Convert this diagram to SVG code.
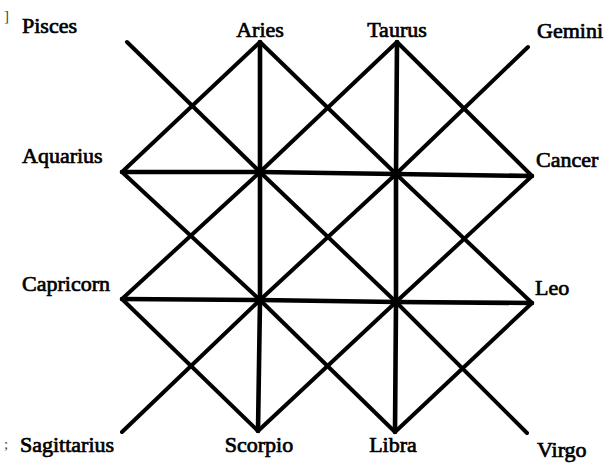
<svg xmlns="http://www.w3.org/2000/svg" width="605" height="469" viewBox="0 0 605 469">
<style>
.lbl{font-family:"Liberation Serif","Times New Roman",serif;font-size:22px;fill:#000;stroke:#000;stroke-width:0.7}
.mid{text-anchor:middle}
.mark{font-family:"Liberation Serif",serif;font-size:15px;fill:#444}
.ln{stroke:#000;stroke-width:4;stroke-linecap:round;stroke-linejoin:round;fill:none}
.hv{stroke-width:4.6}
</style>
<rect width="605" height="469" fill="#fff"/>
<g id="connectors">
<polyline class="ln hv" points="122,172 260,172 396,174 532,176"/>
<polyline class="ln hv" points="122,299 260,300 396,302 532,303"/>
<polyline class="ln hv" points="260,42 260,172 260,300 258,431"/>
<polyline class="ln hv" points="397,42 396,174 396,302 395,432"/>
<polyline class="ln" points="127,42 260,172 396,302 527,433"/>
<polyline class="ln" points="528,47 396,174 260,300 122,432"/>
<polyline class="ln" points="260,42 122,172"/>
<polyline class="ln" points="260,42 396,174 532,303"/>
<polyline class="ln" points="397,42 260,172 122,299"/>
<polyline class="ln" points="397,42 532,176"/>
<polyline class="ln" points="122,172 260,300 395,432"/>
<polyline class="ln" points="532,176 396,302 258,431"/>
<polyline class="ln" points="122,299 258,431"/>
<polyline class="ln" points="532,303 395,432"/>
</g>
<g id="pisces"><text class="lbl" x="22" y="33">Pisces</text></g>
<g id="aries"><text class="lbl mid" x="260" y="37">Aries</text></g>
<g id="taurus"><text class="lbl mid" x="397" y="37">Taurus</text></g>
<g id="gemini"><text class="lbl" x="537" y="38">Gemini</text></g>
<g id="aquarius"><text class="lbl" x="22" y="163">Aquarius</text></g>
<g id="cancer"><text class="lbl" x="536" y="167">Cancer</text></g>
<g id="capricorn"><text class="lbl" x="22" y="291">Capricorn</text></g>
<g id="leo"><text class="lbl" x="535" y="295">Leo</text></g>
<g id="sagittarius"><text class="lbl" x="20" y="452">Sagittarius</text></g>
<g id="scorpio"><text class="lbl mid" x="259" y="452">Scorpio</text></g>
<g id="libra"><text class="lbl mid" x="393" y="452">Libra</text></g>
<g id="virgo"><text class="lbl" x="537" y="457">Virgo</text></g>
<g id="marks">
<text class="mark" x="4" y="21">]</text>
<text class="mark" x="4" y="449">;</text>
</g>
</svg>
